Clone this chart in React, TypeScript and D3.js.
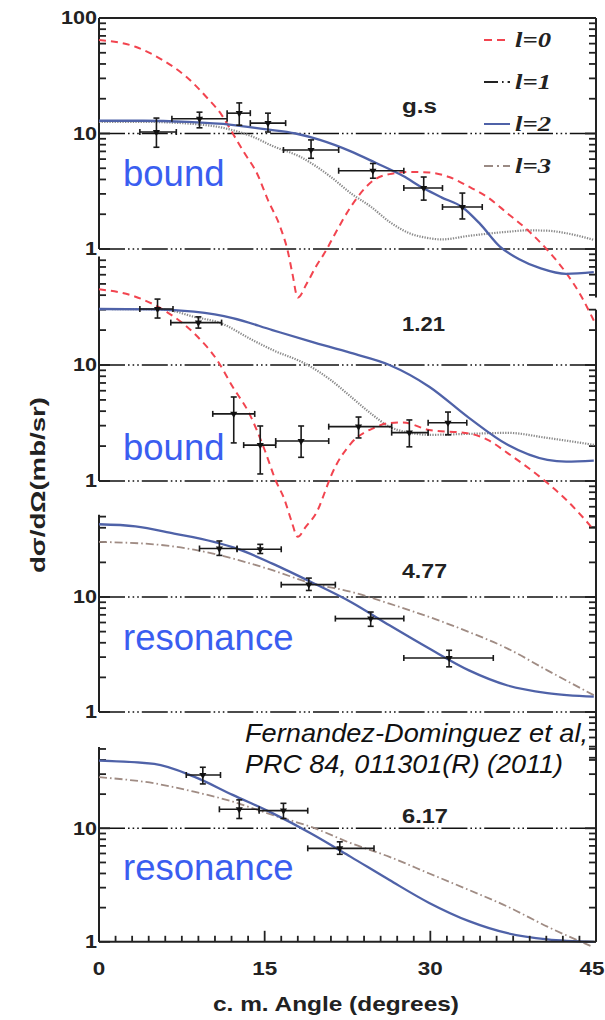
import React, { useEffect, useRef } from 'react';
import * as d3 from 'd3';

const W = 605;
const H = 1020;

// x axis
const angleTicks = [0, 15, 30, 45];

// panel texts
const panelNames = ['g.s', '1.21', '4.77', '6.17'];
const panelNotes = ['bound', 'bound', 'resonance', 'resonance'];
const legendLabels = ['l=0', 'l=1', 'l=2', 'l=3'];

// measured points: [angle, value, angleLo, angleHi, valueLo, valueHi]
const pointsGs = [
  [5.2, 10.3, 3.7, 7.0, 7.6, 13.6],
  [9.1, 13.4, 6.6, 11.6, 11.2, 15.3],
  [12.7, 15.0, 11.6, 13.7, 11.8, 18.4],
  [15.3, 12.3, 13.7, 16.9, 10.3, 15.0],
  [19.2, 7.2, 16.7, 21.7, 6.1, 8.8],
  [24.8, 4.76, 21.7, 27.6, 4.1, 5.5],
  [29.4, 3.37, 27.6, 31.1, 2.65, 4.2],
  [32.9, 2.31, 31.1, 34.7, 1.82, 3.05],
];
const points121 = [
  [5.3, 30.4, 3.7, 6.7, 25.4, 37],
  [9.0, 23.2, 6.5, 11.1, 20.8, 26],
  [12.2, 3.79, 10.3, 14.1, 2.13, 5.3],
  [14.6, 2.04, 13.1, 16.0, 1.15, 2.98],
  [18.3, 2.21, 16.0, 20.8, 1.6, 2.98],
  [23.5, 2.94, 20.8, 26.5, 2.35, 3.56],
  [28.1, 2.61, 26.5, 29.8, 1.97, 3.36],
  [31.6, 3.18, 29.8, 33.3, 2.5, 3.93],
];
const points477 = [
  [10.9, 26.4, 9.1, 12.5, 23.0, 30.7],
  [14.6, 26.0, 12.5, 16.5, 23.9, 28.7],
  [19.0, 12.8, 16.5, 21.4, 11.4, 14.6],
  [24.6, 6.49, 21.4, 27.6, 5.56, 7.4],
  [31.7, 2.95, 27.6, 35.7, 2.47, 3.44],
];
const points617 = [
  [9.4, 29.5, 7.9, 11.0, 24.6, 34.5],
  [12.7, 14.7, 10.9, 14.5, 12.2, 17.8],
  [16.7, 14.3, 14.5, 18.9, 12.2, 16.6],
  [21.8, 6.66, 18.9, 24.9, 5.9, 7.6],
];

// calculated curves: [angle, value]
const l0Gs = [
  [0, 64.5], [3.3, 56.4], [5.75, 43.3], [7.9, 31], [9.7, 20.8], [11.1, 14.5], [12.1, 10.05],
  [13.2, 6.7], [14.3, 4.53], [15.3, 2.65], [16.4, 1.56], [17.1, 0.95], [17.5, 0.62], [18.0, 0.38],
  [18.8, 0.5], [19.7, 0.72], [20.5, 0.95], [21.4, 1.37], [22.8, 2.32], [24.9, 3.96], [26.3, 4.45],
  [28.1, 4.65], [29.9, 4.6], [31.7, 4.2], [33.5, 3.46], [35.2, 2.8], [37, 2.03], [38.8, 1.46],
  [40.6, 0.98], [42.3, 0.62], [43.6, 0.4], [44.8, 0.24],
];
const l1Gs = [
  [0, 12.6], [4, 12.6], [8, 12.2], [11.4, 11.1], [13.9, 9.4], [15.7, 7.8], [18.2, 6.3], [21, 4.2],
  [22.8, 3.04], [24.6, 2.33], [26.3, 1.72], [28.1, 1.37], [29.9, 1.24], [31, 1.21], [33.5, 1.3],
  [37, 1.41], [38.8, 1.45], [40.6, 1.44], [42.3, 1.37], [44.8, 1.2],
];
const l2Gs = [
  [0, 12.9], [4, 12.9], [8, 12.6], [12, 11.9], [15, 10.9], [17.8, 10], [20, 8.8], [22.8, 7.0],
  [25, 5.6], [27.5, 4.3], [29.4, 3.35], [31, 2.8], [32.9, 2.3], [34.5, 1.65], [36.3, 1.05],
  [38, 0.82], [40, 0.68], [42.3, 0.61], [44.8, 0.63],
];
const l0_121 = [
  [0, 45], [3.3, 38.8], [6.1, 28.8], [8.6, 18.8], [10.7, 11], [12.1, 6.5], [13.6, 3.83], [15, 1.85],
  [16, 1.01], [16.8, 0.69], [17.4, 0.46], [18, 0.33], [18.7, 0.4], [19.8, 0.56], [20.4, 0.78],
  [21, 1.1], [22.8, 2.1], [24.9, 2.87], [26.3, 3.16], [27.5, 3.2], [29.9, 2.75], [33.5, 2.57],
  [35.2, 2.26], [37, 1.74], [40.6, 0.96], [42.3, 0.69], [44.8, 0.38],
];
const l1_121 = [
  [0, 30.4], [5, 30.2], [6.5, 29.5], [8.6, 26], [10.9, 23.2], [13.9, 16.4], [15.7, 13.5],
  [18.9, 10], [21, 7.4], [22.8, 5.33], [24.6, 3.83], [26.3, 2.94], [28.1, 2.61], [29.9, 2.5],
  [33.5, 2.55], [37, 2.6], [40.6, 2.35], [44.8, 2.05],
];
const l2_121 = [
  [0, 30.4], [5, 30.2], [8.6, 28.8], [12.1, 25.4], [15.7, 20], [19.2, 15.9], [22.8, 12.7],
  [26.3, 10], [29.9, 6.5], [33.5, 3.5], [37, 2.05], [40.6, 1.52], [42.3, 1.47], [44.8, 1.5],
];
const l2_477 = [
  [0, 42.9], [3.3, 41.2], [6.8, 35.6], [10.4, 30.1], [12.5, 26.3], [15.7, 19.5], [19.2, 13.5],
  [22.8, 9.05], [26.3, 5.67], [29.9, 3.56], [33.5, 2.3], [37, 1.7], [40.6, 1.46], [44.8, 1.36],
];
const l3_477 = [
  [0, 30.1], [5, 28.7], [8.6, 25.8], [12.1, 21.6], [15.7, 17.1], [19.2, 13.2], [22.8, 11.1],
  [26.3, 8.75], [29.9, 6.7], [33.5, 4.96], [37, 3.56], [40.6, 2.3], [44.8, 1.4],
];
const l2_617 = [
  [0, 39.5], [5, 36.9], [8.6, 28.5], [12.1, 19.7], [15.7, 13.6], [19.2, 9.0], [22.8, 5.6],
  [26.3, 3.5], [29.9, 2.2], [33.5, 1.52], [37, 1.19], [40.6, 1.05], [44.8, 1.0],
];
const l3_617 = [
  [0, 28.2], [5, 24.9], [8.6, 21], [12.1, 17.2], [15.7, 13.1], [19.2, 10.3], [22.8, 7.4],
  [26.3, 5.6], [29.9, 4.0], [33.5, 2.86], [37, 2.04], [40.6, 1.36], [44.5, 0.92],
];

// line styles per angular momentum
const styles = {
  l0: { stroke: '#f2444f', width: 2, dash: '7,5' },
  l1: { stroke: '#8a8a8a', width: 2.2, dash: '1.3,1.3' },
  l2: { stroke: '#4f62a8', width: 2.3, dash: null },
  l3: { stroke: '#a08c84', width: 1.8, dash: '8,3,1.6,3' },
};
const legendStyles = [
  { stroke: '#f2444f', dash: '8,5' },
  { stroke: '#222', dash: '14,4,1.6,4' },
  { stroke: '#4f62a8', dash: null },
  { stroke: '#9a8a84', dash: '9,4,2,4' },
];

const SANS = 'Liberation Sans, Arial, sans-serif';

const App = () => {
  const svgRef = useRef(null);

  useEffect(() => {
    const svg = d3.select(svgRef.current);
    svg.selectAll('*').remove();

    const x = d3.scaleLinear().domain([0, 45]).range([99, 596]);
    const X0 = x(0), X1 = x(45);

    // stretched bold label, like the original figure's lettering
    const label = (sel, txt, size, len) => sel.append('text')
      .attr('font-family', SANS).attr('font-weight', 'bold').attr('font-size', size)
      .attr('fill', '#222').attr('textLength', len).attr('lengthAdjust', 'spacingAndGlyphs')
      .text(txt);

    // panel layout: y at value 1, pixels per decade, axis extents
    const panels = [
      { y1: 249, dec: 115.5, left: [1, 100], right: [0.38, 100], top: 100, pts: pointsGs,
        curves: [['l1', l1Gs], ['l0', l0Gs], ['l2', l2Gs]], labelY: 113, noteY: 186, labelW: 35 },
      { y1: 481, dec: 116, left: [1, 86], right: [0.33, 30], top: null, pts: points121,
        curves: [['l1', l1_121], ['l0', l0_121], ['l2', l2_121]], labelY: 331, noteY: 460, labelW: 43 },
      { y1: 712, dec: 115, left: [1, 52], right: [0.36, 52], top: null, pts: points477,
        curves: [['l3', l3_477], ['l2', l2_477]], labelY: 578, noteY: 650, labelW: 45 },
      { y1: 941.8, dec: 113.5, left: [1, 52], right: [1, 52], top: null, pts: points617,
        curves: [['l3', l3_617], ['l2', l2_617]], labelY: 823, noteY: 880, labelW: 46, bottom: true },
    ];

    const gridDash = '26,3,1.6,3,1.6,3,1.6,3';

    panels.forEach((p, i) => {
      const y = d3.scaleLog().domain([1, 10]).range([p.y1, p.y1 - p.dec]);
      const g = svg.append('g');

      // gridlines at 10 and 1
      g.append('line').attr('x1', X0).attr('x2', X1).attr('y1', y(10)).attr('y2', y(10))
        .attr('stroke', '#111').attr('stroke-width', 1.6).attr('stroke-dasharray', gridDash);
      if (!p.bottom) {
        g.append('line').attr('x1', X0).attr('x2', X1).attr('y1', y(1)).attr('y2', y(1))
          .attr('stroke', '#111').attr('stroke-width', 1.6).attr('stroke-dasharray', gridDash);
      }
      if (p.top) {
        g.append('line').attr('x1', X0).attr('x2', X1).attr('y1', y(p.top)).attr('y2', y(p.top))
          .attr('stroke', '#222').attr('stroke-width', 2);
      }

      // left + right axes with inward log ticks
      const axis = (xa, ext, dir) => {
        g.append('line').attr('x1', xa).attr('x2', xa)
          .attr('y1', y(ext[0])).attr('y2', y(ext[1]))
          .attr('stroke', '#222').attr('stroke-width', 2);
        const ticks = [];
        [0.1, 1, 10, 100].forEach(d => {
          for (let k = 1; k <= 9; k++) {
            const v = k * d;
            if (v >= ext[0] * 0.999 && v <= ext[1] * 1.001) ticks.push([v, k === 1]);
          }
        });
        ticks.forEach(([v, major]) => {
          g.append('line').attr('x1', xa).attr('x2', xa + dir * (major ? 11 : 7))
            .attr('y1', y(v)).attr('y2', y(v))
            .attr('stroke', '#222').attr('stroke-width', 1.8);
        });
      };
      axis(X0, p.left, 1);
      axis(X1, p.right, -1);

      // y tick labels
      const labs = p.top ? [100, 10, 1] : [10, 1];
      labs.forEach(v => {
        const s = String(v);
        label(g, s, 18, s.length * 12)
          .attr('x', 97 - s.length * 12).attr('y', y(v)).attr('dy', '0.36em');
      });

      // theory curves
      const line = d3.line().x(d => x(d[0])).y(d => y(d[1])).curve(d3.curveMonotoneX);
      p.curves.forEach(([key, data]) => {
        const s = styles[key];
        g.append('path').datum(data).attr('d', line).attr('fill', 'none')
          .attr('stroke', s.stroke).attr('stroke-width', s.width)
          .attr('stroke-dasharray', s.dash);
      });

      // data points with error bars
      const eg = g.append('g').attr('stroke', '#1a1a1a').attr('stroke-width', 1.6);
      p.pts.forEach(([a, v, a0, a1, v0, v1]) => {
        const cx = x(a), cy = y(v);
        eg.append('line').attr('x1', x(a0)).attr('x2', x(a1)).attr('y1', cy).attr('y2', cy);
        eg.append('line').attr('x1', x(a0)).attr('x2', x(a0)).attr('y1', cy - 3).attr('y2', cy + 3);
        eg.append('line').attr('x1', x(a1)).attr('x2', x(a1)).attr('y1', cy - 3).attr('y2', cy + 3);
        eg.append('line').attr('x1', cx).attr('x2', cx).attr('y1', y(v0)).attr('y2', y(v1));
        eg.append('line').attr('x1', cx - 3).attr('x2', cx + 3).attr('y1', y(v0)).attr('y2', y(v0));
        eg.append('line').attr('x1', cx - 3).attr('x2', cx + 3).attr('y1', y(v1)).attr('y2', y(v1));
        g.append('path').attr('d', d3.symbol(d3.symbolTriangle, 22)())
          .attr('transform', `translate(${cx},${cy}) rotate(180)`).attr('fill', '#111');
      });

      // panel energy label
      label(g, panelNames[i], 20, p.labelW).attr('x', 402).attr('y', p.labelY);

      // bound / resonance note
      g.append('text').attr('x', 123).attr('y', p.noteY)
        .attr('font-family', SANS)
        .attr('font-size', 36.5).attr('fill', '#3a5ef0').text(panelNotes[i]);
    });

    // bottom x axis
    const yb = 941.8;
    svg.append('line').attr('x1', X0).attr('x2', X1).attr('y1', yb).attr('y2', yb)
      .attr('stroke', '#222').attr('stroke-width', 2);
    d3.range(0, 45.01, 1.5).forEach(a => {
      const major = Math.abs(a % 15) < 0.01;
      svg.append('line').attr('x1', x(a)).attr('x2', x(a)).attr('y1', yb).attr('y2', yb - (major ? 11 : 6))
        .attr('stroke', '#222').attr('stroke-width', 1.8);
    });
    angleTicks.forEach(a => {
      const s = String(a);
      const w = s.length * 12.5;
      const cx = a === 45 ? 592 : x(a);
      label(svg, s, 19, w).attr('x', cx - w / 2).attr('y', 975);
    });

    // axis titles
    label(svg, 'c. m. Angle (degrees)', 21, 246).attr('x', 213).attr('y', 1011);
    label(svg, 'dσ/dΩ(mb/sr)', 21, 176)
      .attr('transform', 'translate(45,573) rotate(-90)');

    // legend
    legendLabels.forEach((t, i) => {
      const ly = [40, 82, 124, 166][i];
      svg.append('line').attr('x1', 484).attr('x2', 510).attr('y1', ly).attr('y2', ly)
        .attr('stroke', legendStyles[i].stroke).attr('stroke-width', 2)
        .attr('stroke-dasharray', legendStyles[i].dash);
      svg.append('text').attr('x', 515).attr('y', ly).attr('dy', '0.35em')
        .attr('font-family', 'Liberation Serif, Times New Roman, serif').attr('font-style', 'italic')
        .attr('font-weight', 'bold').attr('font-size', 21).attr('fill', '#222')
        .attr('textLength', 36).attr('lengthAdjust', 'spacingAndGlyphs').text(t);
    });

    // citation
    const cite = svg.append('text').attr('font-family', SANS)
      .attr('font-style', 'italic').attr('font-size', 25).attr('fill', '#111')
      .attr('lengthAdjust', 'spacingAndGlyphs');
    cite.append('tspan').attr('x', 245).attr('y', 742).attr('textLength', 343)
      .attr('lengthAdjust', 'spacingAndGlyphs').text('Fernandez-Dominguez et al,');
    cite.append('tspan').attr('x', 245).attr('y', 773).attr('textLength', 318)
      .attr('lengthAdjust', 'spacingAndGlyphs').text('PRC 84, 011301(R) (2011)');
  }, []);

  return (
    <svg ref={svgRef} width={W} height={H}
      style={{ position: 'absolute', left: 0, top: 0, background: '#fff' }} />
  );
};

export default App;
